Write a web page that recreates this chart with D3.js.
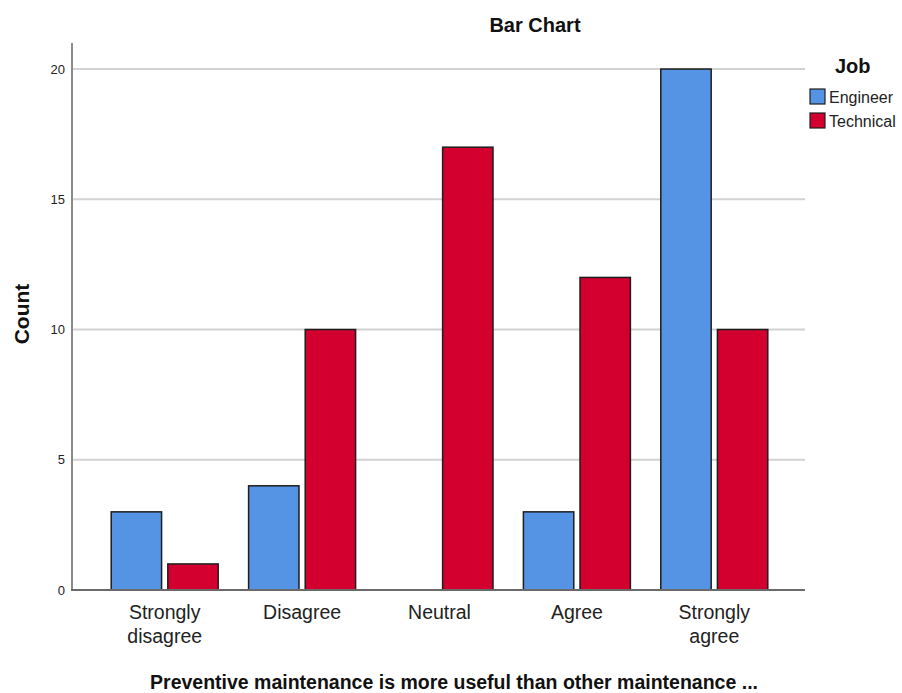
<!DOCTYPE html>
<html>
<head>
<meta charset="utf-8">
<script src="https://cdn.jsdelivr.net/npm/d3@7"></script>
<style>
  html, body { margin: 0; padding: 0; background: #fff; }
  text { font-family: Arial, "Liberation Sans", sans-serif; }
</style>
</head>
<body>
<svg id="chart" width="902" height="693"></svg>
<script>
const categories = ["Strongly disagree", "Disagree", "Neutral", "Agree", "Strongly agree"];
const categoryLines = [["Strongly", "disagree"], ["Disagree"], ["Neutral"], ["Agree"], ["Strongly", "agree"]];
const seriesNames = ["Engineer", "Technical"];
const engineerValues = [3, 4, 0, 3, 20];
const technicalValues = [1, 10, 17, 12, 10];
const yTicks = [0, 5, 10, 15, 20];
const colors = ["#5594e4", "#d3002f"];

const svg = d3.select("#chart");
const plot = { left: 72, right: 805, top: 43, bottom: 590 };

const x = d3.scaleBand().domain(categories).range([96, 783]).padding(0);
const xSub = d3.scaleBand().domain(seriesNames).range([0, 107]).paddingInner(0.11);
const y = d3.scaleLinear().domain([0, 21]).range([plot.bottom, plot.top]);

// gridlines
svg.append("g").selectAll("line").data(yTicks.filter(d => d > 0)).join("line")
  .attr("x1", plot.left).attr("x2", plot.right)
  .attr("y1", d => y(d)).attr("y2", d => y(d))
  .attr("stroke", "#d2d2d2").attr("stroke-width", 2);

// y axis
const yAxis = d3.axisLeft(y).tickValues(yTicks).tickSize(0).tickPadding(7);
const gy = svg.append("g").attr("transform", `translate(${plot.left},0)`).call(yAxis);
gy.select(".domain").remove();
gy.selectAll("text").attr("font-size", "13px").attr("fill", "#222").attr("font-family", "Arial, 'Liberation Sans', sans-serif");

// bars
const data = categories.map((c, i) => ({ cat: c, vals: [engineerValues[i], technicalValues[i]] }));
const groups = svg.append("g").selectAll("g").data(data).join("g")
  .attr("transform", d => `translate(${x(d.cat) + x.bandwidth() / 2 - 53.5},0)`);
groups.selectAll("rect").data(d => d.vals.map((v, j) => ({ s: seriesNames[j], v, j })).filter(e => e.v > 0)).join("rect")
  .attr("x", e => xSub(e.s))
  .attr("width", xSub.bandwidth())
  .attr("y", e => y(e.v))
  .attr("height", e => y(0) - y(e.v))
  .attr("fill", e => colors[e.j])
  .attr("stroke", "#1e1e1e").attr("stroke-width", 1.5);

// axis lines
svg.append("line").attr("x1", plot.left).attr("x2", plot.left).attr("y1", plot.top).attr("y2", plot.bottom)
  .attr("stroke", "#8a8a8a").attr("stroke-width", 2);
svg.append("line").attr("x1", plot.left - 1).attr("x2", plot.right).attr("y1", plot.bottom).attr("y2", plot.bottom)
  .attr("stroke", "#6a6a6a").attr("stroke-width", 2);

// x category labels
const xl = svg.append("g").selectAll("text").data(categories).join("text")
  .attr("x", d => x(d) + x.bandwidth() / 2)
  .attr("y", 619)
  .attr("text-anchor", "middle")
  .attr("font-size", "19.5px").attr("fill", "#222");
xl.selectAll("tspan").data((d, i) => categoryLines[i]).join("tspan")
  .attr("x", function() { return d3.select(this.parentNode).attr("x"); })
  .attr("dy", (d, k) => k === 0 ? 0 : 24)
  .text(d => d);

// title
svg.append("text").attr("x", 535).attr("y", 32).attr("text-anchor", "middle")
  .attr("font-size", "20px").attr("font-weight", "bold").attr("fill", "#111").text("Bar Chart");

// y title
svg.append("text").attr("transform", "translate(29,314) rotate(-90)").attr("text-anchor", "middle")
  .attr("font-size", "21px").attr("font-weight", "bold").attr("fill", "#111").text("Count");

// x title
svg.append("text").attr("x", 454).attr("y", 689).attr("text-anchor", "middle")
  .attr("font-size", "19.5px").attr("font-weight", "bold").attr("fill", "#111")
  .text("Preventive maintenance is more useful than other maintenance ...");

// legend
svg.append("text").attr("x", 835).attr("y", 73).attr("font-size", "20px").attr("font-weight", "bold")
  .attr("fill", "#111").text("Job");
const lg = svg.append("g").selectAll("g").data(seriesNames).join("g")
  .attr("transform", (d, i) => `translate(810,${89 + i * 24})`);
lg.append("rect").attr("width", 15).attr("height", 15)
  .attr("fill", (d, i) => colors[i]).attr("stroke", "#1e1e1e").attr("stroke-width", 1.2);
lg.append("text").attr("x", 19).attr("y", 14).attr("font-size", "16px").attr("fill", "#222").text(d => d);
</script>
</body>
</html>
